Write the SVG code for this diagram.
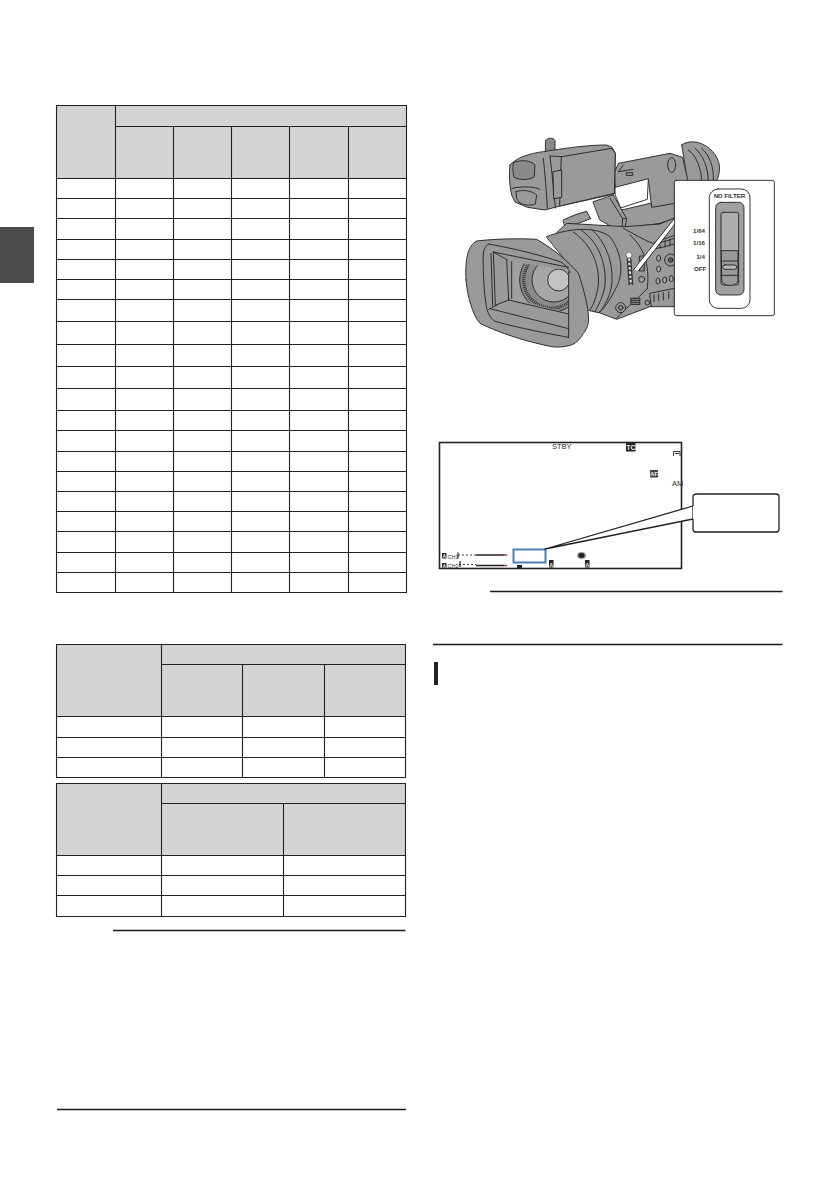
<svg xmlns="http://www.w3.org/2000/svg" width="839" height="1191" viewBox="0 0 839 1191">
<style>
.hdr{fill:#d3d3d3}
.ln{fill:none;stroke:#222;stroke-width:1.1}
.thick{fill:none;stroke:#1a1a1a;stroke-width:1.3}
.c{stroke:#262626;stroke-width:2.8;stroke-linejoin:round;stroke-linecap:round}
.g{fill:#9a9a9a}.d{fill:#8a8a8a}.k{fill:#5a5a5a}.l{fill:#a8a8a8}.n{fill:none}
.t{font-family:"Liberation Sans",Arial,sans-serif;fill:#333}
.lab{font-size:18.5px;font-weight:700;text-anchor:end}
.osd{font-size:7.5px}
.ic{fill:#222}
.icw{font-family:"Liberation Sans",Arial,sans-serif;fill:#eee;font-weight:700;text-anchor:middle}
</style>
<rect width="839" height="1191" fill="#fff"/>
<rect id="tab" x="0" y="227" width="34" height="56" fill="#4b4b4b"/>

<g id="table1">
<rect class="hdr" x="57" y="106" width="349" height="72"/>
<path class="ln" d="M56.5 105.5V592.5M115.5 105.5V592.5M173.5 126.5V592.5M231.5 126.5V592.5M289.5 126.5V592.5M348.5 126.5V592.5M406.5 105.5V592.5"/>
<path class="ln" d="M56 105.5H407M115.5 126.5H407M56 178.5H407M56 198.5H407M56 218.5H407M56 239.5H407M56 259.5H407M56 279.5H407M56 299.5H407M56 321.5H407M56 344.5H407M56 366.5H407M56 388.5H407M56 410.5H407M56 430.5H407M56 451.5H407M56 471.5H407M56 491.5H407M56 511.5H407M56 531.5H407M56 552.5H407M56 572.5H407M56 592.5H407"/>
</g>

<g id="table2">
<rect class="hdr" x="57" y="645" width="349" height="72"/>
<path class="ln" d="M56.5 644.5V777.5M161.5 644.5V777.5M242.5 664.5V777.5M324.5 664.5V777.5M405.5 644.5V777.5"/>
<path class="ln" d="M56 644.5H406M161.5 664.5H406M56 716.5H406M56 737.5H406M56 757.5H406M56 777.5H406"/>
</g>

<g id="table3">
<rect class="hdr" x="57" y="784" width="349" height="72"/>
<path class="ln" d="M56.5 783.5V916.5M161.5 783.5V916.5M283.5 803.5V916.5M405.5 783.5V916.5"/>
<path class="ln" d="M56 783.5H406M161.5 803.5H406M56 855.5H406M56 875.5H406M56 895.5H406M56 916.5H406"/>
</g>

<g id="rules">
<path class="thick" d="M113 930.5H405.5M57 1109.5H406M490 591.5H782.5M433 644.5H782.5"/>
<rect x="434" y="662" width="4" height="23" fill="#222"/>
</g>

<g id="camera" transform="translate(430 120) scale(.33333)">
<!-- pin -->
<path class="c d" d="M347 62C352 52 370 52 375 62L375 100L347 100Z"/>
<!-- eyepiece -->
<path class="c g" d="M755 75C762 68 785 62 805 68C840 78 862 105 868 135C870 155 866 172 858 185L770 190C768 145 760 105 755 75Z"/>
<path class="n c" d="M775 90C800 105 815 150 815 185M795 85C820 105 835 145 835 185M815 85C838 105 852 140 850 180"/>
<!-- body top, behind the handle -->
<path class="c g" d="M575 270L660 250L735 235L735 295L690 310L585 325Z"/>
<!-- handle -->
<path class="c g" d="M553 158L565 130L720 100L758 112L776 192L735 200L735 250L665 262L655 178L558 205Z"/>
<path class="c" fill="#fff" d="M556 202L655 176L652 238L572 264L556 226Z"/>
<ellipse class="c g" cx="725" cy="135" rx="12" ry="22"/>
<path class="n c" d="M580 135L565 155L610 148M590 158H608V166H590Z"/>
<!-- neck -->
<path class="c g" d="M490 245L550 225L590 296L582 342L510 300Z"/>
<path class="n c" d="M540 235L578 296H588M578 296L575 340"/>
<path class="c g" d="M400 300C420 290 445 280 470 274L482 296L440 312L405 318Z"/>
<path class="c k" d="M652 318L695 310L692 330L652 337Z"/>
<!-- monitor -->
<path class="c g" d="M240 135C260 112 300 100 340 95C420 82 480 75 530 75L546 82L556 100L553 222L390 258L345 270L292 262L255 246L245 225C238 200 237 160 240 135Z"/>
<path class="c g" d="M395 110L545 85L556 100L553 220L390 258Z"/>
<path class="n c" d="M340 115C345 165 350 220 352 265M360 108C366 160 372 220 376 264M395 110L360 108"/>
<path class="c g" d="M370 155L395 150L395 232L372 236Z"/>
<path class="c d" d="M250 128C268 120 300 118 315 135L313 170C296 182 268 180 252 172C248 155 248 140 250 128Z"/>
<path class="n c" d="M246 205C280 198 315 200 330 208M258 215C280 208 305 212 320 225L316 252C300 258 280 256 266 246C260 238 258 226 258 215Z"/>
<!-- body -->
<path class="c g" d="M380 338L410 310L585 320L690 312L735 293L735 540L660 560L560 598L500 575Z"/>
<path class="n c" d="M600 345C640 380 660 430 652 505M652 505C620 540 580 570 560 595M580 325C610 340 640 360 668 370L735 345"/>
<!-- barrel -->
<path class="c g" d="M350 350C420 322 500 320 540 350C570 390 585 450 560 500C540 540 520 570 505 578L470 570L420 440Z"/>
<path class="n c" d="M430 336C480 370 510 430 505 495C500 530 490 555 480 570M455 332C505 365 530 430 525 495C520 530 505 555 495 575M485 328C525 365 552 425 545 495C540 530 525 555 508 578"/>
<!-- controls -->
<g class="c">
<path class="n" d="M676 370C690 368 715 362 733 355M676 386C700 382 720 376 733 372M690 365V384M705 362V381M720 358V377"/>
<ellipse class="l" cx="686" cy="415" rx="6" ry="9"/><ellipse class="l" cx="686" cy="447" rx="6" ry="9"/><circle class="g" cx="722" cy="420" r="18"/><circle class="k" cx="722" cy="420" r="7"/>
<ellipse class="l" cx="684" cy="483" rx="6" ry="9"/><ellipse class="l" cx="704" cy="480" rx="6" ry="9"/><ellipse class="l" cx="724" cy="476" rx="6" ry="9"/><circle class="g" cx="635" cy="478" r="9"/>
<rect class="d" x="629" y="408" width="14" height="45"/>
<path class="g" d="M660 520L733 505V560L665 560Z"/>
<path class="n" d="M672 525V545M686 522V542M700 518V540M716 515V535"/>
<circle class="g" cx="572" cy="563" r="15"/><circle class="d" cx="572" cy="563" r="7"/><circle class="g" cx="652" cy="548" r="7"/>
</g>
<rect x="601" y="533" width="30" height="22" fill="#333"/>
<path d="M604 538H628M604 544H628M604 550H628" stroke="#aaa" stroke-width="2"/>
<circle cx="597" cy="405" r="9" fill="#eee" stroke="#333" stroke-width="1.5"/>
<path d="M597 415L603 495" stroke="#333" stroke-width="14" fill="none"/>
<path d="M597 415L603 495" stroke="#ddd" stroke-width="6" stroke-dasharray="8 5" fill="none"/>
<!-- hood -->
<path class="c g" d="M108 480C105 420 112 378 140 363C200 356 270 355 320 358C370 385 420 430 445 460C462 510 475 560 476 600C474 620 468 632 460 640C450 660 435 672 420 676C400 682 380 682 365 680C290 665 210 640 150 610C128 585 112 530 108 480Z"/>
<path class="n c" d="M175 372C250 385 330 405 390 425C405 432 415 445 420 458M160 400C158 450 162 520 170 565C175 585 185 598 195 604C270 625 350 640 416 652M160 400C163 385 168 376 175 372"/>
<clipPath id="lensclip"><path d="M245 425L415 450V580L245 535Z"/></clipPath>
<g clip-path="url(#lensclip)">
<rect x="240" y="420" width="180" height="165" fill="#a0a0a0"/>
<circle cx="365" cy="480" r="96" class="c d"/>
<circle cx="365" cy="480" r="84" fill="none" stroke="#333" stroke-width="10" stroke-dasharray="3 3"/>
<circle cx="372" cy="480" r="66" class="c" fill="#a6a6a6"/>
<circle cx="386" cy="480" r="33" class="c" fill="#c2c2c2"/>
</g>
<path class="n c" d="M190 396L196 556M183 400L188 558M416 442L190 396M245 425V535M230 422L236 540M235 540L416 582M180 566L416 626M196 556L236 540M416 456V652M176 568L200 556M190 396L232 420"/>
<!-- pointer -->
<path d="M737 292L610 448L624 452L737 310Z" fill="#fff"/>
<path class="n c" d="M735 293L610 450M735 312L626 452"/>
<!-- inset -->
<rect class="c" fill="#fff" x="733" y="181" width="300" height="406" rx="6"/>
<rect class="c" fill="#fff" x="838" y="207" width="122" height="358" rx="26"/>
<rect class="c" fill="#a0a0a0" x="857" y="247" width="85" height="278" rx="16"/>
<rect class="c" fill="#aeaeae" x="873" y="277" width="53" height="218" rx="6"/>
<path class="c" fill="#9a9a9a" d="M875 392H924V478C924 490 915 496 900 496C884 496 875 490 875 478Z"/>
<path class="n c" d="M875 423H924M875 466H924"/>
<rect class="c" fill="#b8b8b8" x="878" y="435" width="42" height="13" rx="6.5"/>
<text class="t lab" x="946" y="234">ND FILTER</text>
<text class="t lab" x="825" y="338">1/64</text>
<text class="t lab" x="825" y="376">1/16</text>
<text class="t lab" x="825" y="416">1/4</text>
<text class="t lab" x="829" y="452">OFF</text>
</g>

<g id="screen">
<rect x="439.5" y="442.5" width="242" height="126" fill="#fff" stroke="#222" stroke-width="1.6"/>
<text class="t osd" x="552" y="449">STBY</text>
<rect class="ic" x="626" y="443" width="9.5" height="8.5"/>
<text class="icw" x="630.8" y="450" font-size="7">TC</text>
<path d="M673.5 456V451.5H680V456M675 453.5H679" fill="none" stroke="#333"/>
<rect x="650" y="470" width="8" height="7.5" fill="#444"/>
<text class="icw" x="654" y="476" font-size="6">AF</text>
<text class="t" x="672" y="486" font-size="7.5">AM</text>
<!-- audio -->
<rect class="ic" x="442" y="553" width="4.5" height="5.5"/>
<rect class="ic" x="442" y="563" width="4.5" height="5"/>
<text class="icw" x="444.2" y="558" font-size="5">A</text>
<text class="icw" x="444.2" y="567.5" font-size="5">A</text>
<text class="t" x="447.5" y="558.5" font-size="5.5">CH1</text>
<text class="t" x="447.5" y="567.5" font-size="5.5">CH2</text>
<path d="M458 555H476M459 564.5H476" stroke="#444" stroke-width="1" stroke-dasharray="2 2"/>
<path d="M476 555H504M476 565.5H504" stroke="#222" stroke-width="1.4"/>
<path d="M504 555H507M504 565.5H507" stroke="#b03040" stroke-width="1.4"/>
<path d="M458 552.5V558M460 561V567" stroke="#222" stroke-width="1.2"/>
<rect x="513.5" y="549.5" width="32" height="13" fill="none" stroke="#4a80b8" stroke-width="2"/>
<rect class="ic" x="549" y="560" width="4.5" height="7.5"/>
<text class="icw" x="551.2" y="566.5" font-size="5.5">A</text>
<rect class="ic" x="585" y="560" width="4.5" height="7.5"/>
<text class="icw" x="587.2" y="566.5" font-size="5.5">A</text>
<ellipse cx="581.5" cy="555.5" rx="4.5" ry="3.5" fill="#999"/>
<ellipse cx="581.5" cy="555.5" rx="3" ry="2.4" fill="#222"/>
<rect class="ic" x="517" y="565" width="5" height="3"/>
</g>

<g id="connectors">
<path d="M693 506L545 549L693 519Z" fill="#fff" stroke="#222" stroke-width="1.3" stroke-linejoin="round"/>
</g>
<g id="callout">
<path d="M693 506V497C693 495 695 494 697 494H776C778 494 779 495 779 497V529C779 531 778 532 776 532H696C694 532 693 531 693 529V519" fill="#fff" stroke="#222" stroke-width="1.3"/>
</g>
</svg>
